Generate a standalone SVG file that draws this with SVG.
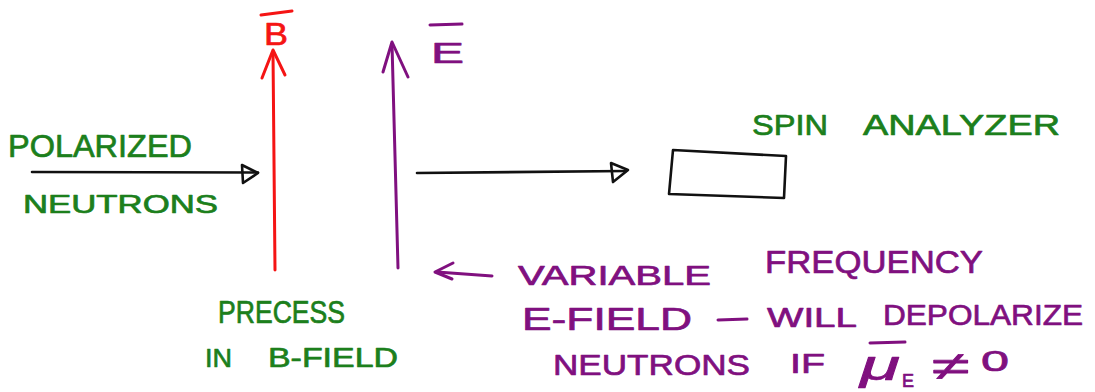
<svg xmlns="http://www.w3.org/2000/svg" width="1095" height="392" viewBox="0 0 1095 392">
<style>
  .ln{fill:none;stroke-linecap:round;stroke-linejoin:round}
  .blk{stroke:#111;stroke-width:2.6}
  .red{stroke:#f51414;stroke-width:3}
  .pur{stroke:#80107f;stroke-width:3}
  .t{font-family:"Liberation Sans",Arial,sans-serif;stroke-width:0.7;stroke-linejoin:round}
  .g{fill:#1c7f1c;stroke:#1c7f1c}
  .p{fill:#80107f;stroke:#80107f}
  .r{fill:#f51414;stroke:#f51414}
</style>
<rect width="1095" height="392" fill="#fff"/>
<g id="connectors">
  <path class="ln blk" d="M32,172 L258,172.5"/>
  <path class="ln blk" d="M242,165 L258,173 L243,183 Z"/>
  <path class="ln blk" d="M417,173 L626,171"/>
  <path class="ln blk" d="M611,163 L628,170 L613,182 Z"/>
  <path class="ln pur" d="M492,276 L437,272"/>
  <path class="ln pur" d="M453,263 L435,272 L452,279"/>
</g>
<g id="b-field">
  <path class="ln red" d="M275,270 L273,52"/>
  <path class="ln red" d="M262,78 L273,50 L285,75"/>
  <path class="ln red" d="M261,15 L292,11" stroke-width="2.6"/>
  <text class="t r" x="264" y="45" font-size="31" textLength="24" lengthAdjust="spacingAndGlyphs">B</text>
</g>
<g id="e-field">
  <path class="ln pur" d="M398,268 L392,44"/>
  <path class="ln pur" d="M383,72 L392,42 L408,77"/>
  <path class="ln pur" d="M430,25 L462,24" stroke-width="2.6"/>
  <text class="t p" x="431" y="63" font-size="29" textLength="33" lengthAdjust="spacingAndGlyphs">E</text>
</g>
<g id="polarized-neutrons">
  <text class="t g" x="8" y="157" font-size="31" textLength="184" lengthAdjust="spacingAndGlyphs">POLARIZED</text>
  <text class="t g" x="23" y="213" font-size="25" textLength="195" lengthAdjust="spacingAndGlyphs">NEUTRONS</text>
</g>
<g id="spin-analyzer">
  <path class="ln blk" d="M673,150 L786,156 L784,198 L669,194 Z" stroke-width="3"/>
  <text class="t g" x="752" y="135" font-size="29" textLength="76" lengthAdjust="spacingAndGlyphs">SPIN</text>
  <text class="t g" x="863" y="135" font-size="29" textLength="197" lengthAdjust="spacingAndGlyphs">ANALYZER</text>
</g>
<g id="precess">
  <text class="t g" x="218" y="323" font-size="31" textLength="127" lengthAdjust="spacingAndGlyphs">PRECESS</text>
  <text class="t g" x="205" y="367" font-size="26" textLength="27" lengthAdjust="spacingAndGlyphs">IN</text>
  <text class="t g" x="268" y="367" font-size="27" textLength="130" lengthAdjust="spacingAndGlyphs">B-FIELD</text>
</g>
<g id="variable-frequency">
  <text class="t p" x="518" y="285" font-size="28" textLength="193" lengthAdjust="spacingAndGlyphs">VARIABLE</text>
  <text class="t p" x="765" y="273" font-size="32" textLength="218" lengthAdjust="spacingAndGlyphs">FREQUENCY</text>
  <text class="t p" x="522" y="330" font-size="31" textLength="170" lengthAdjust="spacingAndGlyphs">E-FIELD</text>
  <path class="ln pur" d="M718,320 L747,319"/>
  <text class="t p" x="767" y="327" font-size="28" textLength="90" lengthAdjust="spacingAndGlyphs">WILL</text>
  <text class="t p" x="883" y="325" font-size="30" textLength="200" lengthAdjust="spacingAndGlyphs">DEPOLARIZE</text>
  <text class="t p" x="553" y="375" font-size="30" textLength="197" lengthAdjust="spacingAndGlyphs">NEUTRONS</text>
  <text class="t p" x="790" y="373" font-size="28" textLength="35" lengthAdjust="spacingAndGlyphs">IF</text>
  <path class="ln pur" d="M870,343 L905,342" stroke-width="2.6"/>
  <text class="t p" x="860" y="380" font-size="42" font-style="italic" textLength="40" lengthAdjust="spacingAndGlyphs" stroke-width="0">μ</text>
  <text class="t p" x="902" y="387" font-size="18">E</text>
  <text class="t p" x="932" y="380" font-size="40" textLength="38" lengthAdjust="spacingAndGlyphs" stroke-width="0">≠</text>
  <text class="t p" x="981" y="371" font-size="29" textLength="28" lengthAdjust="spacingAndGlyphs">0</text>
</g>
</svg>
